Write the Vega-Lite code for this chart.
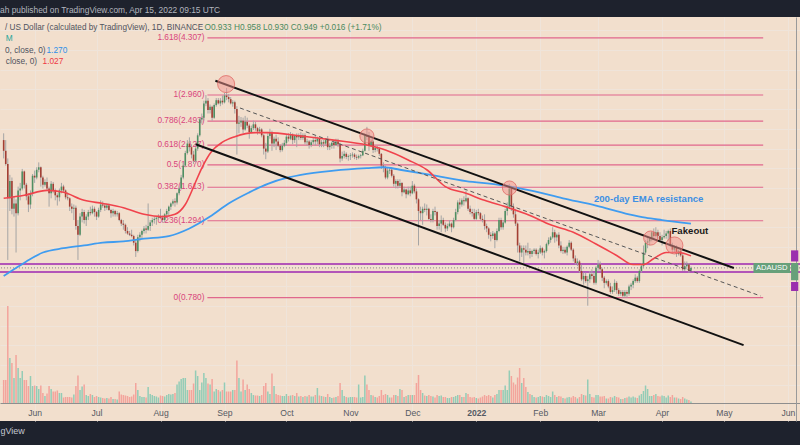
{
"$schema":"https://vega.github.io/schema/vega-lite/v6.json",
"width":800,"height":404,"autosize":"none",
"padding":{"left":0,"top":17,"right":0,"bottom":24},
"background":"#1e222d",
"config":{"view":{"fill":"#f2dfcd","stroke":null},"font":"Liberation Sans, Arial, sans-serif"},
"title":{"text":"ah published on TradingView.com, Apr 15, 2022 09:15 UTC","anchor":"start","frame":"group","orient":"top","offset":4,"dy":10,"color":"#b2b5be","fontSize":8.4,"fontWeight":"normal","baseline":"bottom"},
"datasets":{
"ohlc":[
{"d":"2021-05-17","o":2.20,"h":2.30,"l":1.95,"c":2.05,"v":230},
{"d":"2021-05-18","o":2.05,"h":2.20,"l":1.86,"c":1.88,"v":230},
{"d":"2021-05-19","o":1.88,"h":1.95,"l":1.00,"c":1.50,"v":970},
{"d":"2021-05-20","o":1.50,"h":1.75,"l":1.38,"c":1.68,"v":450},
{"d":"2021-05-21","o":1.68,"h":1.72,"l":1.35,"c":1.40,"v":400},
{"d":"2021-05-22","o":1.40,"h":1.52,"l":1.33,"c":1.45,"v":250},
{"d":"2021-05-23","o":1.45,"h":1.49,"l":1.05,"c":1.36,"v":480},
{"d":"2021-05-24","o":1.36,"h":1.62,"l":1.34,"c":1.58,"v":350},
{"d":"2021-05-25","o":1.58,"h":1.66,"l":1.48,"c":1.60,"v":250},
{"d":"2021-05-26","o":1.60,"h":1.82,"l":1.58,"c":1.79,"v":320},
{"d":"2021-05-27","o":1.79,"h":1.80,"l":1.60,"c":1.64,"v":230},
{"d":"2021-05-28","o":1.64,"h":1.66,"l":1.48,"c":1.52,"v":230},
{"d":"2021-05-29","o":1.52,"h":1.55,"l":1.37,"c":1.44,"v":170},
{"d":"2021-05-30","o":1.44,"h":1.58,"l":1.40,"c":1.55,"v":270},
{"d":"2021-05-31","o":1.55,"h":1.76,"l":1.52,"c":1.74,"v":170},
{"d":"2021-06-01","o":1.74,"h":1.80,"l":1.66,"c":1.72,"v":175},
{"d":"2021-06-02","o":1.72,"h":1.84,"l":1.70,"c":1.81,"v":170},
{"d":"2021-06-03","o":1.81,"h":1.90,"l":1.78,"c":1.84,"v":140},
{"d":"2021-06-04","o":1.84,"h":1.85,"l":1.62,"c":1.72,"v":175},
{"d":"2021-06-05","o":1.72,"h":1.74,"l":1.60,"c":1.64,"v":100},
{"d":"2021-06-06","o":1.64,"h":1.70,"l":1.62,"c":1.67,"v":70},
{"d":"2021-06-07","o":1.67,"h":1.72,"l":1.58,"c":1.60,"v":95},
{"d":"2021-06-08","o":1.60,"h":1.62,"l":1.42,"c":1.55,"v":170},
{"d":"2021-06-09","o":1.55,"h":1.68,"l":1.50,"c":1.65,"v":140},
{"d":"2021-06-10","o":1.65,"h":1.67,"l":1.55,"c":1.58,"v":115},
{"d":"2021-06-11","o":1.58,"h":1.60,"l":1.48,"c":1.53,"v":115},
{"d":"2021-06-12","o":1.53,"h":1.55,"l":1.43,"c":1.51,"v":125},
{"d":"2021-06-13","o":1.51,"h":1.60,"l":1.47,"c":1.58,"v":100},
{"d":"2021-06-14","o":1.58,"h":1.66,"l":1.55,"c":1.62,"v":100},
{"d":"2021-06-15","o":1.62,"h":1.64,"l":1.56,"c":1.58,"v":55},
{"d":"2021-06-16","o":1.58,"h":1.59,"l":1.49,"c":1.51,"v":60},
{"d":"2021-06-17","o":1.51,"h":1.56,"l":1.48,"c":1.50,"v":60},
{"d":"2021-06-18","o":1.50,"h":1.51,"l":1.38,"c":1.42,"v":60},
{"d":"2021-06-19","o":1.42,"h":1.45,"l":1.36,"c":1.40,"v":55},
{"d":"2021-06-20","o":1.40,"h":1.44,"l":1.30,"c":1.41,"v":85},
{"d":"2021-06-21","o":1.41,"h":1.43,"l":1.22,"c":1.25,"v":170},
{"d":"2021-06-22","o":1.25,"h":1.30,"l":1.00,"c":1.18,"v":275},
{"d":"2021-06-23","o":1.18,"h":1.36,"l":1.17,"c":1.33,"v":130},
{"d":"2021-06-24","o":1.33,"h":1.40,"l":1.28,"c":1.37,"v":165},
{"d":"2021-06-25","o":1.37,"h":1.39,"l":1.27,"c":1.30,"v":185},
{"d":"2021-06-26","o":1.30,"h":1.35,"l":1.25,"c":1.33,"v":80},
{"d":"2021-06-27","o":1.33,"h":1.39,"l":1.30,"c":1.37,"v":70},
{"d":"2021-06-28","o":1.37,"h":1.42,"l":1.34,"c":1.36,"v":90},
{"d":"2021-06-29","o":1.36,"h":1.43,"l":1.35,"c":1.40,"v":80},
{"d":"2021-06-30","o":1.40,"h":1.42,"l":1.33,"c":1.37,"v":60},
{"d":"2021-07-01","o":1.37,"h":1.38,"l":1.30,"c":1.33,"v":70},
{"d":"2021-07-02","o":1.33,"h":1.41,"l":1.32,"c":1.39,"v":60},
{"d":"2021-07-03","o":1.39,"h":1.48,"l":1.37,"c":1.44,"v":55},
{"d":"2021-07-04","o":1.44,"h":1.47,"l":1.41,"c":1.43,"v":50},
{"d":"2021-07-05","o":1.43,"h":1.45,"l":1.38,"c":1.41,"v":45},
{"d":"2021-07-06","o":1.41,"h":1.45,"l":1.39,"c":1.43,"v":50},
{"d":"2021-07-07","o":1.43,"h":1.45,"l":1.38,"c":1.39,"v":45},
{"d":"2021-07-08","o":1.39,"h":1.40,"l":1.32,"c":1.36,"v":60},
{"d":"2021-07-09","o":1.36,"h":1.40,"l":1.33,"c":1.38,"v":40},
{"d":"2021-07-10","o":1.38,"h":1.39,"l":1.33,"c":1.35,"v":40},
{"d":"2021-07-11","o":1.35,"h":1.38,"l":1.33,"c":1.36,"v":35},
{"d":"2021-07-12","o":1.36,"h":1.37,"l":1.29,"c":1.30,"v":115},
{"d":"2021-07-13","o":1.30,"h":1.31,"l":1.25,"c":1.27,"v":85},
{"d":"2021-07-14","o":1.27,"h":1.30,"l":1.22,"c":1.26,"v":80},
{"d":"2021-07-15","o":1.26,"h":1.27,"l":1.19,"c":1.21,"v":75},
{"d":"2021-07-16","o":1.21,"h":1.24,"l":1.18,"c":1.19,"v":70},
{"d":"2021-07-17","o":1.19,"h":1.21,"l":1.17,"c":1.18,"v":60},
{"d":"2021-07-18","o":1.18,"h":1.22,"l":1.16,"c":1.17,"v":65},
{"d":"2021-07-19","o":1.17,"h":1.18,"l":1.10,"c":1.12,"v":85},
{"d":"2021-07-20","o":1.12,"h":1.14,"l":1.02,"c":1.06,"v":200},
{"d":"2021-07-21","o":1.06,"h":1.18,"l":1.05,"c":1.16,"v":130},
{"d":"2021-07-22","o":1.16,"h":1.20,"l":1.13,"c":1.18,"v":70},
{"d":"2021-07-23","o":1.18,"h":1.22,"l":1.15,"c":1.21,"v":60},
{"d":"2021-07-24","o":1.21,"h":1.25,"l":1.19,"c":1.23,"v":60},
{"d":"2021-07-25","o":1.23,"h":1.26,"l":1.19,"c":1.22,"v":55},
{"d":"2021-07-26","o":1.22,"h":1.45,"l":1.21,"c":1.25,"v":160},
{"d":"2021-07-27","o":1.25,"h":1.30,"l":1.21,"c":1.28,"v":90},
{"d":"2021-07-28","o":1.28,"h":1.32,"l":1.25,"c":1.30,"v":80},
{"d":"2021-07-29","o":1.30,"h":1.33,"l":1.27,"c":1.31,"v":70},
{"d":"2021-07-30","o":1.31,"h":1.33,"l":1.26,"c":1.32,"v":65},
{"d":"2021-07-31","o":1.32,"h":1.35,"l":1.30,"c":1.33,"v":55},
{"d":"2021-08-01","o":1.33,"h":1.40,"l":1.31,"c":1.32,"v":75},
{"d":"2021-08-02","o":1.32,"h":1.34,"l":1.28,"c":1.30,"v":70},
{"d":"2021-08-03","o":1.30,"h":1.36,"l":1.28,"c":1.35,"v":65},
{"d":"2021-08-04","o":1.35,"h":1.40,"l":1.33,"c":1.38,"v":80},
{"d":"2021-08-05","o":1.38,"h":1.43,"l":1.33,"c":1.42,"v":90},
{"d":"2021-08-06","o":1.42,"h":1.46,"l":1.39,"c":1.45,"v":85},
{"d":"2021-08-07","o":1.45,"h":1.49,"l":1.43,"c":1.47,"v":90},
{"d":"2021-08-08","o":1.47,"h":1.50,"l":1.42,"c":1.46,"v":100},
{"d":"2021-08-09","o":1.46,"h":1.56,"l":1.44,"c":1.55,"v":185},
{"d":"2021-08-10","o":1.55,"h":1.62,"l":1.53,"c":1.60,"v":215},
{"d":"2021-08-11","o":1.60,"h":1.75,"l":1.59,"c":1.72,"v":240},
{"d":"2021-08-12","o":1.72,"h":1.90,"l":1.70,"c":1.86,"v":250},
{"d":"2021-08-13","o":1.86,"h":2.05,"l":1.84,"c":2.02,"v":250},
{"d":"2021-08-14","o":2.02,"h":2.20,"l":2.00,"c":2.15,"v":130},
{"d":"2021-08-15","o":2.15,"h":2.24,"l":2.04,"c":2.10,"v":130},
{"d":"2021-08-16","o":2.10,"h":2.14,"l":1.95,"c":2.00,"v":130},
{"d":"2021-08-17","o":2.00,"h":2.05,"l":1.88,"c":1.92,"v":195},
{"d":"2021-08-18","o":1.92,"h":2.10,"l":1.90,"c":2.08,"v":325},
{"d":"2021-08-19","o":2.08,"h":2.30,"l":2.05,"c":2.27,"v":270},
{"d":"2021-08-20","o":2.27,"h":2.55,"l":2.25,"c":2.52,"v":130},
{"d":"2021-08-21","o":2.52,"h":2.62,"l":2.45,"c":2.55,"v":205},
{"d":"2021-08-22","o":2.55,"h":2.85,"l":2.50,"c":2.80,"v":300},
{"d":"2021-08-23","o":2.80,"h":2.96,"l":2.75,"c":2.85,"v":250},
{"d":"2021-08-24","o":2.85,"h":2.90,"l":2.62,"c":2.68,"v":195},
{"d":"2021-08-25","o":2.68,"h":2.78,"l":2.62,"c":2.74,"v":185},
{"d":"2021-08-26","o":2.74,"h":2.76,"l":2.50,"c":2.55,"v":240},
{"d":"2021-08-27","o":2.55,"h":2.80,"l":2.53,"c":2.77,"v":115},
{"d":"2021-08-28","o":2.77,"h":2.90,"l":2.74,"c":2.86,"v":140},
{"d":"2021-08-29","o":2.86,"h":2.90,"l":2.78,"c":2.80,"v":130},
{"d":"2021-08-30","o":2.80,"h":2.90,"l":2.75,"c":2.85,"v":115},
{"d":"2021-08-31","o":2.85,"h":2.95,"l":2.78,"c":2.82,"v":130},
{"d":"2021-09-01","o":2.82,"h":3.00,"l":2.80,"c":2.95,"v":205},
{"d":"2021-09-02","o":2.95,"h":3.10,"l":2.86,"c":2.92,"v":115},
{"d":"2021-09-03","o":2.92,"h":2.98,"l":2.82,"c":2.88,"v":115},
{"d":"2021-09-04","o":2.88,"h":2.92,"l":2.78,"c":2.80,"v":115},
{"d":"2021-09-05","o":2.80,"h":2.86,"l":2.74,"c":2.82,"v":130},
{"d":"2021-09-06","o":2.82,"h":2.85,"l":2.62,"c":2.70,"v":130},
{"d":"2021-09-07","o":2.70,"h":2.75,"l":2.00,"c":2.45,"v":425},
{"d":"2021-09-08","o":2.45,"h":2.58,"l":2.30,"c":2.47,"v":250},
{"d":"2021-09-09","o":2.47,"h":2.56,"l":2.40,"c":2.50,"v":115},
{"d":"2021-09-10","o":2.50,"h":2.55,"l":2.30,"c":2.36,"v":235},
{"d":"2021-09-11","o":2.36,"h":2.58,"l":2.34,"c":2.48,"v":130},
{"d":"2021-09-12","o":2.48,"h":2.55,"l":2.38,"c":2.42,"v":185},
{"d":"2021-09-13","o":2.42,"h":2.45,"l":2.22,"c":2.32,"v":140},
{"d":"2021-09-14","o":2.32,"h":2.42,"l":2.30,"c":2.38,"v":100},
{"d":"2021-09-15","o":2.38,"h":2.50,"l":2.35,"c":2.44,"v":80},
{"d":"2021-09-16","o":2.44,"h":2.48,"l":2.34,"c":2.38,"v":75},
{"d":"2021-09-17","o":2.38,"h":2.40,"l":2.28,"c":2.33,"v":75},
{"d":"2021-09-18","o":2.33,"h":2.40,"l":2.30,"c":2.36,"v":70},
{"d":"2021-09-19","o":2.36,"h":2.38,"l":2.24,"c":2.27,"v":80},
{"d":"2021-09-20","o":2.27,"h":2.29,"l":2.00,"c":2.08,"v":170},
{"d":"2021-09-21","o":2.08,"h":2.16,"l":1.94,"c":2.04,"v":200},
{"d":"2021-09-22","o":2.04,"h":2.30,"l":2.02,"c":2.26,"v":115},
{"d":"2021-09-23","o":2.26,"h":2.37,"l":2.22,"c":2.32,"v":90},
{"d":"2021-09-24","o":2.32,"h":2.34,"l":2.05,"c":2.15,"v":295},
{"d":"2021-09-25","o":2.15,"h":2.25,"l":2.10,"c":2.22,"v":170},
{"d":"2021-09-26","o":2.22,"h":2.28,"l":2.06,"c":2.18,"v":90},
{"d":"2021-09-27","o":2.18,"h":2.24,"l":2.10,"c":2.12,"v":80},
{"d":"2021-09-28","o":2.12,"h":2.14,"l":2.03,"c":2.06,"v":75},
{"d":"2021-09-29","o":2.06,"h":2.16,"l":2.04,"c":2.12,"v":70},
{"d":"2021-09-30","o":2.12,"h":2.20,"l":2.10,"c":2.16,"v":70},
{"d":"2021-10-01","o":2.16,"h":2.28,"l":2.12,"c":2.25,"v":90},
{"d":"2021-10-02","o":2.25,"h":2.30,"l":2.18,"c":2.22,"v":70},
{"d":"2021-10-03","o":2.22,"h":2.32,"l":2.20,"c":2.28,"v":75},
{"d":"2021-10-04","o":2.28,"h":2.30,"l":2.14,"c":2.20,"v":80},
{"d":"2021-10-05","o":2.20,"h":2.28,"l":2.16,"c":2.26,"v":70},
{"d":"2021-10-06","o":2.26,"h":2.30,"l":2.10,"c":2.24,"v":100},
{"d":"2021-10-07","o":2.24,"h":2.30,"l":2.20,"c":2.27,"v":65},
{"d":"2021-10-08","o":2.27,"h":2.32,"l":2.20,"c":2.23,"v":70},
{"d":"2021-10-09","o":2.23,"h":2.30,"l":2.20,"c":2.27,"v":60},
{"d":"2021-10-10","o":2.27,"h":2.30,"l":2.14,"c":2.17,"v":70},
{"d":"2021-10-11","o":2.17,"h":2.22,"l":2.12,"c":2.18,"v":65},
{"d":"2021-10-12","o":2.18,"h":2.20,"l":2.08,"c":2.13,"v":80},
{"d":"2021-10-13","o":2.13,"h":2.20,"l":2.10,"c":2.17,"v":65},
{"d":"2021-10-14","o":2.17,"h":2.24,"l":2.14,"c":2.20,"v":65},
{"d":"2021-10-15","o":2.20,"h":2.26,"l":2.12,"c":2.18,"v":80},
{"d":"2021-10-16","o":2.18,"h":2.25,"l":2.14,"c":2.22,"v":150},
{"d":"2021-10-17","o":2.22,"h":2.23,"l":2.10,"c":2.14,"v":75},
{"d":"2021-10-18","o":2.14,"h":2.20,"l":2.10,"c":2.17,"v":70},
{"d":"2021-10-19","o":2.17,"h":2.20,"l":2.10,"c":2.15,"v":65},
{"d":"2021-10-20","o":2.15,"h":2.22,"l":2.12,"c":2.20,"v":60},
{"d":"2021-10-21","o":2.20,"h":2.26,"l":2.06,"c":2.10,"v":90},
{"d":"2021-10-22","o":2.10,"h":2.16,"l":2.06,"c":2.12,"v":60},
{"d":"2021-10-23","o":2.12,"h":2.18,"l":2.08,"c":2.16,"v":50},
{"d":"2021-10-24","o":2.16,"h":2.18,"l":2.08,"c":2.13,"v":55},
{"d":"2021-10-25","o":2.13,"h":2.22,"l":2.12,"c":2.18,"v":60},
{"d":"2021-10-26","o":2.18,"h":2.22,"l":2.10,"c":2.14,"v":70},
{"d":"2021-10-27","o":2.14,"h":2.16,"l":1.90,"c":1.95,"v":200},
{"d":"2021-10-28","o":1.95,"h":2.04,"l":1.92,"c":1.98,"v":130},
{"d":"2021-10-29","o":1.98,"h":2.05,"l":1.95,"c":2.01,"v":70},
{"d":"2021-10-30","o":2.01,"h":2.03,"l":1.94,"c":1.97,"v":60},
{"d":"2021-10-31","o":1.97,"h":2.00,"l":1.92,"c":1.98,"v":55},
{"d":"2021-11-01","o":1.98,"h":2.02,"l":1.93,"c":1.99,"v":60},
{"d":"2021-11-02","o":1.99,"h":2.03,"l":1.96,"c":2.00,"v":60},
{"d":"2021-11-03","o":2.00,"h":2.02,"l":1.94,"c":1.97,"v":60},
{"d":"2021-11-04","o":1.97,"h":2.00,"l":1.93,"c":1.96,"v":55},
{"d":"2021-11-05","o":1.96,"h":2.00,"l":1.94,"c":1.98,"v":185},
{"d":"2021-11-06","o":1.98,"h":2.01,"l":1.95,"c":1.99,"v":55},
{"d":"2021-11-07","o":1.99,"h":2.08,"l":1.98,"c":2.05,"v":60},
{"d":"2021-11-08","o":2.05,"h":2.30,"l":2.04,"c":2.27,"v":275},
{"d":"2021-11-09","o":2.27,"h":2.40,"l":2.20,"c":2.25,"v":185},
{"d":"2021-11-10","o":2.25,"h":2.32,"l":2.05,"c":2.12,"v":130},
{"d":"2021-11-11","o":2.12,"h":2.22,"l":2.10,"c":2.18,"v":80},
{"d":"2021-11-12","o":2.18,"h":2.20,"l":2.02,"c":2.06,"v":75},
{"d":"2021-11-13","o":2.06,"h":2.12,"l":2.03,"c":2.09,"v":60},
{"d":"2021-11-14","o":2.09,"h":2.12,"l":2.04,"c":2.08,"v":55},
{"d":"2021-11-15","o":2.08,"h":2.10,"l":1.98,"c":2.01,"v":70},
{"d":"2021-11-16","o":2.01,"h":2.02,"l":1.82,"c":1.86,"v":130},
{"d":"2021-11-17","o":1.86,"h":1.90,"l":1.78,"c":1.84,"v":80},
{"d":"2021-11-18","o":1.84,"h":1.86,"l":1.70,"c":1.72,"v":90},
{"d":"2021-11-19","o":1.72,"h":1.84,"l":1.70,"c":1.80,"v":80},
{"d":"2021-11-20","o":1.80,"h":1.84,"l":1.76,"c":1.81,"v":55},
{"d":"2021-11-21","o":1.81,"h":1.82,"l":1.72,"c":1.74,"v":55},
{"d":"2021-11-22","o":1.74,"h":1.76,"l":1.62,"c":1.65,"v":80},
{"d":"2021-11-23","o":1.65,"h":1.70,"l":1.60,"c":1.68,"v":80},
{"d":"2021-11-24","o":1.68,"h":1.70,"l":1.60,"c":1.63,"v":70},
{"d":"2021-11-25","o":1.63,"h":1.70,"l":1.61,"c":1.66,"v":140},
{"d":"2021-11-26","o":1.66,"h":1.67,"l":1.52,"c":1.56,"v":130},
{"d":"2021-11-27","o":1.56,"h":1.62,"l":1.55,"c":1.59,"v":60},
{"d":"2021-11-28","o":1.59,"h":1.60,"l":1.50,"c":1.54,"v":70},
{"d":"2021-11-29","o":1.54,"h":1.62,"l":1.53,"c":1.58,"v":80},
{"d":"2021-11-30","o":1.58,"h":1.62,"l":1.52,"c":1.55,"v":80},
{"d":"2021-12-01","o":1.55,"h":1.68,"l":1.54,"c":1.63,"v":80},
{"d":"2021-12-02","o":1.63,"h":1.65,"l":1.55,"c":1.57,"v":80},
{"d":"2021-12-03","o":1.57,"h":1.60,"l":1.45,"c":1.49,"v":200},
{"d":"2021-12-04","o":1.49,"h":1.50,"l":1.10,"c":1.38,"v":280},
{"d":"2021-12-05","o":1.38,"h":1.42,"l":1.30,"c":1.36,"v":130},
{"d":"2021-12-06","o":1.36,"h":1.42,"l":1.26,"c":1.40,"v":100},
{"d":"2021-12-07","o":1.40,"h":1.45,"l":1.37,"c":1.39,"v":75},
{"d":"2021-12-08","o":1.39,"h":1.44,"l":1.34,"c":1.40,"v":70},
{"d":"2021-12-09","o":1.40,"h":1.41,"l":1.30,"c":1.31,"v":80},
{"d":"2021-12-10","o":1.31,"h":1.35,"l":1.28,"c":1.30,"v":70},
{"d":"2021-12-11","o":1.30,"h":1.40,"l":1.28,"c":1.38,"v":65},
{"d":"2021-12-12","o":1.38,"h":1.42,"l":1.34,"c":1.37,"v":55},
{"d":"2021-12-13","o":1.37,"h":1.38,"l":1.22,"c":1.25,"v":80},
{"d":"2021-12-14","o":1.25,"h":1.30,"l":1.22,"c":1.27,"v":70},
{"d":"2021-12-15","o":1.27,"h":1.34,"l":1.20,"c":1.30,"v":75},
{"d":"2021-12-16","o":1.30,"h":1.32,"l":1.25,"c":1.26,"v":60},
{"d":"2021-12-17","o":1.26,"h":1.28,"l":1.20,"c":1.23,"v":60},
{"d":"2021-12-18","o":1.23,"h":1.27,"l":1.21,"c":1.25,"v":50},
{"d":"2021-12-19","o":1.25,"h":1.30,"l":1.24,"c":1.27,"v":50},
{"d":"2021-12-20","o":1.27,"h":1.28,"l":1.20,"c":1.24,"v":60},
{"d":"2021-12-21","o":1.24,"h":1.32,"l":1.23,"c":1.30,"v":60},
{"d":"2021-12-22","o":1.30,"h":1.40,"l":1.29,"c":1.37,"v":70},
{"d":"2021-12-23","o":1.37,"h":1.48,"l":1.35,"c":1.46,"v":80},
{"d":"2021-12-24","o":1.46,"h":1.50,"l":1.40,"c":1.44,"v":80},
{"d":"2021-12-25","o":1.44,"h":1.50,"l":1.42,"c":1.48,"v":60},
{"d":"2021-12-26","o":1.48,"h":1.52,"l":1.43,"c":1.47,"v":60},
{"d":"2021-12-27","o":1.47,"h":1.58,"l":1.46,"c":1.50,"v":100},
{"d":"2021-12-28","o":1.50,"h":1.51,"l":1.38,"c":1.40,"v":90},
{"d":"2021-12-29","o":1.40,"h":1.43,"l":1.35,"c":1.37,"v":60},
{"d":"2021-12-30","o":1.37,"h":1.40,"l":1.33,"c":1.36,"v":55},
{"d":"2021-12-31","o":1.36,"h":1.40,"l":1.30,"c":1.31,"v":60},
{"d":"2022-01-01","o":1.31,"h":1.39,"l":1.30,"c":1.37,"v":50},
{"d":"2022-01-02","o":1.37,"h":1.40,"l":1.34,"c":1.36,"v":45},
{"d":"2022-01-03","o":1.36,"h":1.37,"l":1.30,"c":1.31,"v":55},
{"d":"2022-01-04","o":1.31,"h":1.34,"l":1.28,"c":1.30,"v":65},
{"d":"2022-01-05","o":1.30,"h":1.35,"l":1.22,"c":1.25,"v":80},
{"d":"2022-01-06","o":1.25,"h":1.27,"l":1.20,"c":1.23,"v":70},
{"d":"2022-01-07","o":1.23,"h":1.24,"l":1.15,"c":1.18,"v":80},
{"d":"2022-01-08","o":1.18,"h":1.20,"l":1.13,"c":1.17,"v":70},
{"d":"2022-01-09","o":1.17,"h":1.21,"l":1.15,"c":1.19,"v":55},
{"d":"2022-01-10","o":1.19,"h":1.20,"l":1.08,"c":1.14,"v":80},
{"d":"2022-01-11","o":1.14,"h":1.23,"l":1.13,"c":1.21,"v":90},
{"d":"2022-01-12","o":1.21,"h":1.32,"l":1.20,"c":1.30,"v":130},
{"d":"2022-01-13","o":1.30,"h":1.32,"l":1.22,"c":1.24,"v":130},
{"d":"2022-01-14","o":1.24,"h":1.30,"l":1.22,"c":1.28,"v":130},
{"d":"2022-01-15","o":1.28,"h":1.40,"l":1.27,"c":1.38,"v":175},
{"d":"2022-01-16","o":1.38,"h":1.46,"l":1.34,"c":1.42,"v":130},
{"d":"2022-01-17","o":1.42,"h":1.65,"l":1.40,"c":1.60,"v":325},
{"d":"2022-01-18","o":1.60,"h":1.62,"l":1.38,"c":1.42,"v":270},
{"d":"2022-01-19","o":1.42,"h":1.45,"l":1.32,"c":1.35,"v":205},
{"d":"2022-01-20","o":1.35,"h":1.40,"l":1.25,"c":1.27,"v":185},
{"d":"2022-01-21","o":1.27,"h":1.28,"l":1.05,"c":1.10,"v":255},
{"d":"2022-01-22","o":1.10,"h":1.12,"l":0.99,"c":1.05,"v":350},
{"d":"2022-01-23","o":1.05,"h":1.10,"l":1.02,"c":1.08,"v":200},
{"d":"2022-01-24","o":1.08,"h":1.10,"l":0.98,"c":1.07,"v":250},
{"d":"2022-01-25","o":1.07,"h":1.10,"l":1.03,"c":1.05,"v":160},
{"d":"2022-01-26","o":1.05,"h":1.12,"l":1.03,"c":1.06,"v":110},
{"d":"2022-01-27","o":1.06,"h":1.08,"l":1.01,"c":1.04,"v":90},
{"d":"2022-01-28","o":1.04,"h":1.07,"l":1.02,"c":1.06,"v":80},
{"d":"2022-01-29","o":1.06,"h":1.08,"l":1.04,"c":1.07,"v":60},
{"d":"2022-01-30","o":1.07,"h":1.08,"l":1.03,"c":1.04,"v":55},
{"d":"2022-01-31","o":1.04,"h":1.07,"l":1.01,"c":1.05,"v":60},
{"d":"2022-02-01","o":1.05,"h":1.10,"l":1.04,"c":1.08,"v":70},
{"d":"2022-02-02","o":1.08,"h":1.09,"l":1.03,"c":1.05,"v":65},
{"d":"2022-02-03","o":1.05,"h":1.07,"l":1.01,"c":1.06,"v":60},
{"d":"2022-02-04","o":1.06,"h":1.12,"l":1.05,"c":1.11,"v":80},
{"d":"2022-02-05","o":1.11,"h":1.16,"l":1.10,"c":1.14,"v":70},
{"d":"2022-02-06","o":1.14,"h":1.17,"l":1.12,"c":1.16,"v":60},
{"d":"2022-02-07","o":1.16,"h":1.24,"l":1.15,"c":1.20,"v":115},
{"d":"2022-02-08","o":1.20,"h":1.22,"l":1.12,"c":1.16,"v":80},
{"d":"2022-02-09","o":1.16,"h":1.19,"l":1.13,"c":1.18,"v":60},
{"d":"2022-02-10","o":1.18,"h":1.20,"l":1.08,"c":1.10,"v":70},
{"d":"2022-02-11","o":1.10,"h":1.13,"l":1.05,"c":1.06,"v":65},
{"d":"2022-02-12","o":1.06,"h":1.09,"l":1.04,"c":1.07,"v":50},
{"d":"2022-02-13","o":1.07,"h":1.09,"l":1.04,"c":1.05,"v":45},
{"d":"2022-02-14","o":1.05,"h":1.10,"l":1.03,"c":1.09,"v":55},
{"d":"2022-02-15","o":1.09,"h":1.14,"l":1.08,"c":1.12,"v":60},
{"d":"2022-02-16","o":1.12,"h":1.13,"l":1.06,"c":1.07,"v":55},
{"d":"2022-02-17","o":1.07,"h":1.08,"l":0.99,"c":1.01,"v":70},
{"d":"2022-02-18","o":1.01,"h":1.03,"l":0.97,"c":0.98,"v":60},
{"d":"2022-02-19","o":0.98,"h":1.01,"l":0.96,"c":0.99,"v":45},
{"d":"2022-02-20","o":0.99,"h":1.00,"l":0.92,"c":0.93,"v":60},
{"d":"2022-02-21","o":0.93,"h":0.97,"l":0.87,"c":0.88,"v":90},
{"d":"2022-02-22","o":0.88,"h":0.92,"l":0.85,"c":0.90,"v":80},
{"d":"2022-02-23","o":0.90,"h":0.92,"l":0.86,"c":0.87,"v":75},
{"d":"2022-02-24","o":0.87,"h":0.90,"l":0.74,"c":0.88,"v":235},
{"d":"2022-02-25","o":0.88,"h":0.93,"l":0.86,"c":0.91,"v":90},
{"d":"2022-02-26","o":0.91,"h":0.94,"l":0.88,"c":0.90,"v":60},
{"d":"2022-02-27","o":0.90,"h":0.92,"l":0.85,"c":0.86,"v":55},
{"d":"2022-02-28","o":0.86,"h":0.96,"l":0.85,"c":0.95,"v":80},
{"d":"2022-03-01","o":0.95,"h":1.00,"l":0.93,"c":0.97,"v":80},
{"d":"2022-03-02","o":0.97,"h":0.99,"l":0.93,"c":0.94,"v":65},
{"d":"2022-03-03","o":0.94,"h":0.95,"l":0.87,"c":0.89,"v":65},
{"d":"2022-03-04","o":0.89,"h":0.90,"l":0.83,"c":0.86,"v":70},
{"d":"2022-03-05","o":0.86,"h":0.88,"l":0.85,"c":0.87,"v":45},
{"d":"2022-03-06","o":0.87,"h":0.88,"l":0.83,"c":0.84,"v":45},
{"d":"2022-03-07","o":0.84,"h":0.86,"l":0.80,"c":0.81,"v":60},
{"d":"2022-03-08","o":0.81,"h":0.84,"l":0.80,"c":0.82,"v":55},
{"d":"2022-03-09","o":0.82,"h":0.88,"l":0.81,"c":0.86,"v":70},
{"d":"2022-03-10","o":0.86,"h":0.87,"l":0.80,"c":0.82,"v":60},
{"d":"2022-03-11","o":0.82,"h":0.83,"l":0.79,"c":0.80,"v":55},
{"d":"2022-03-12","o":0.80,"h":0.82,"l":0.79,"c":0.81,"v":40},
{"d":"2022-03-13","o":0.81,"h":0.82,"l":0.78,"c":0.79,"v":40},
{"d":"2022-03-14","o":0.79,"h":0.82,"l":0.78,"c":0.81,"v":50},
{"d":"2022-03-15","o":0.81,"h":0.82,"l":0.78,"c":0.80,"v":55},
{"d":"2022-03-16","o":0.80,"h":0.85,"l":0.79,"c":0.84,"v":65},
{"d":"2022-03-17","o":0.84,"h":0.86,"l":0.82,"c":0.85,"v":55},
{"d":"2022-03-18","o":0.85,"h":0.88,"l":0.83,"c":0.87,"v":65},
{"d":"2022-03-19","o":0.87,"h":0.91,"l":0.86,"c":0.89,"v":55},
{"d":"2022-03-20","o":0.89,"h":0.90,"l":0.86,"c":0.87,"v":50},
{"d":"2022-03-21","o":0.87,"h":0.94,"l":0.86,"c":0.93,"v":75},
{"d":"2022-03-22","o":0.93,"h":0.98,"l":0.92,"c":0.96,"v":90},
{"d":"2022-03-23","o":0.96,"h":1.10,"l":0.95,"c":1.05,"v":120},
{"d":"2022-03-24","o":1.05,"h":1.14,"l":1.04,"c":1.12,"v":175},
{"d":"2022-03-25","o":1.12,"h":1.16,"l":1.08,"c":1.13,"v":140},
{"d":"2022-03-26","o":1.13,"h":1.16,"l":1.10,"c":1.15,"v":70},
{"d":"2022-03-27","o":1.15,"h":1.21,"l":1.13,"c":1.20,"v":70},
{"d":"2022-03-28","o":1.20,"h":1.23,"l":1.14,"c":1.17,"v":80},
{"d":"2022-03-29","o":1.17,"h":1.24,"l":1.16,"c":1.20,"v":90},
{"d":"2022-03-30","o":1.20,"h":1.22,"l":1.15,"c":1.17,"v":70},
{"d":"2022-03-31","o":1.17,"h":1.20,"l":1.13,"c":1.14,"v":65},
{"d":"2022-04-01","o":1.14,"h":1.18,"l":1.10,"c":1.16,"v":75},
{"d":"2022-04-02","o":1.16,"h":1.22,"l":1.15,"c":1.17,"v":70},
{"d":"2022-04-03","o":1.17,"h":1.21,"l":1.15,"c":1.19,"v":55},
{"d":"2022-04-04","o":1.19,"h":1.22,"l":1.13,"c":1.21,"v":75},
{"d":"2022-04-05","o":1.21,"h":1.23,"l":1.09,"c":1.10,"v":60},
{"d":"2022-04-06","o":1.10,"h":1.12,"l":1.04,"c":1.07,"v":80},
{"d":"2022-04-07","o":1.07,"h":1.10,"l":1.05,"c":1.09,"v":55},
{"d":"2022-04-08","o":1.09,"h":1.10,"l":1.02,"c":1.04,"v":55},
{"d":"2022-04-09","o":1.04,"h":1.07,"l":1.03,"c":1.06,"v":45},
{"d":"2022-04-10","o":1.06,"h":1.08,"l":1.02,"c":1.03,"v":40},
{"d":"2022-04-11","o":1.03,"h":1.04,"l":0.93,"c":0.94,"v":60},
{"d":"2022-04-12","o":0.94,"h":0.99,"l":0.93,"c":0.96,"v":45},
{"d":"2022-04-13","o":0.96,"h":0.99,"l":0.94,"c":0.97,"v":35},
{"d":"2022-04-14","o":0.97,"h":0.98,"l":0.92,"c":0.93,"v":30},
{"d":"2022-04-15","o":0.933,"h":0.958,"l":0.930,"c":0.949,"v":15}
],
"ema50":[
{"d":"2021-05-17","v":1.50},{"d":"2021-05-27","v":1.53},{"d":"2021-06-07","v":1.58},{"d":"2021-06-15","v":1.56},{"d":"2021-06-25","v":1.48},{"d":"2021-07-04","v":1.45},{"d":"2021-07-14","v":1.41},{"d":"2021-07-24","v":1.35},{"d":"2021-08-02","v":1.33},{"d":"2021-08-08","v":1.35},{"d":"2021-08-13","v":1.44},{"d":"2021-08-18","v":1.67},{"d":"2021-08-21","v":1.83},{"d":"2021-08-26","v":2.05},{"d":"2021-08-31","v":2.17},{"d":"2021-09-06","v":2.25},{"d":"2021-09-16","v":2.31},{"d":"2021-09-22","v":2.31},{"d":"2021-10-08","v":2.26},{"d":"2021-10-24","v":2.20},{"d":"2021-11-09","v":2.13},{"d":"2021-11-18","v":2.06},{"d":"2021-11-29","v":1.93},{"d":"2021-12-08","v":1.81},{"d":"2021-12-17","v":1.62},{"d":"2021-12-27","v":1.55},{"d":"2022-01-05","v":1.48},{"d":"2022-01-15","v":1.42},{"d":"2022-01-27","v":1.34},{"d":"2022-02-06","v":1.26},{"d":"2022-02-17","v":1.20},{"d":"2022-02-28","v":1.11},{"d":"2022-03-10","v":1.03},{"d":"2022-03-18","v":0.97},{"d":"2022-03-23","v":0.97},{"d":"2022-03-28","v":1.01},{"d":"2022-04-03","v":1.05},{"d":"2022-04-09","v":1.05},{"d":"2022-04-15","v":1.027}
],
"ema200":[
{"d":"2021-05-17","v":0.90},{"d":"2021-05-22","v":0.94},{"d":"2021-05-28","v":0.99},{"d":"2021-06-05","v":1.05},{"d":"2021-06-15","v":1.08},{"d":"2021-06-25","v":1.10},{"d":"2021-07-04","v":1.12},{"d":"2021-07-14","v":1.13},{"d":"2021-07-24","v":1.15},{"d":"2021-08-05","v":1.17},{"d":"2021-08-15","v":1.23},{"d":"2021-08-25","v":1.33},{"d":"2021-09-03","v":1.45},{"d":"2021-09-13","v":1.56},{"d":"2021-09-22","v":1.65},{"d":"2021-10-02","v":1.72},{"d":"2021-10-08","v":1.75},{"d":"2021-10-24","v":1.80},{"d":"2021-11-09","v":1.83},{"d":"2021-11-17","v":1.84},{"d":"2021-11-25","v":1.81},{"d":"2021-12-10","v":1.75},{"d":"2021-12-27","v":1.68},{"d":"2022-01-12","v":1.64},{"d":"2022-01-27","v":1.58},{"d":"2022-02-12","v":1.50},{"d":"2022-02-28","v":1.43},{"d":"2022-03-16","v":1.35},{"d":"2022-03-24","v":1.32},{"d":"2022-04-01","v":1.30},{"d":"2022-04-15","v":1.27}
],
"fib":[
{"lvl":"1.618(4.307)","p":4.307},{"lvl":"1(2.960)","p":2.96},{"lvl":"0.786(2.493)","p":2.493},{"lvl":"0.618(2.127)","p":2.127},{"lvl":"0.5(1.870)","p":1.87},{"lvl":"0.382(1.613)","p":1.613},{"lvl":"0.236(1.294)","p":1.294},{"lvl":"0(0.780)","p":0.78}
],
"channel":[
{"line":"upper","d":"2021-08-27T14:00:00Z","p":3.25},{"line":"upper","d":"2022-05-05T19:00:00Z","p":0.948},
{"line":"lower","d":"2021-08-18T00:00:00Z","p":2.14},{"line":"lower","d":"2022-05-10T12:00:00Z","p":0.571},
{"line":"mid","d":"2021-09-08T12:00:00Z","p":2.717},{"line":"mid","d":"2022-05-18T17:00:00Z","p":0.789}
],
"levels":[{"p":0.973},{"p":0.924}]
},
"layer":[
{"data":{"name":"ohlc"},"mark":{"type":"bar","size":1.5},
 "encoding":{
  "x":{"field":"d","type":"temporal","scale":{"type":"utc","domain":[1621265400000,1654336800000]},
   "axis":{"orient":"bottom","offset":-18,"values":[
    {"year":2021,"month":6,"date":1,"utc":true},{"year":2021,"month":7,"date":1,"utc":true},{"year":2021,"month":8,"date":1,"utc":true},{"year":2021,"month":9,"date":1,"utc":true},{"year":2021,"month":10,"date":1,"utc":true},{"year":2021,"month":11,"date":1,"utc":true},{"year":2021,"month":12,"date":1,"utc":true},{"year":2022,"month":1,"date":1,"utc":true},{"year":2022,"month":2,"date":1,"utc":true},{"year":2022,"month":3,"date":1,"utc":true},{"year":2022,"month":4,"date":1,"utc":true},{"year":2022,"month":5,"date":1,"utc":true},{"year":2022,"month":6,"date":1,"utc":true}],
    "labelExpr":"utcFormat(datum.value, '%m') === '01' ? utcFormat(datum.value, '%Y') : utcFormat(datum.value, '%b')",
    "labelFontWeight":{"condition":{"test":"utcFormat(datum.value, '%m') === '01'","value":"bold"},"value":"normal"},
    "grid":true,"gridColor":"#efe4da","gridWidth":1,"ticks":false,"domainColor":"#8e8e8e","labelColor":"#555a63","labelFontSize":8.6,"labelPadding":5,"labelFlush":false,"labelOverlap":false,
    "title":"gView","titleAnchor":"start","titleAlign":"left","titleColor":"#c3c6cf","titleFontSize":9,"titleFontWeight":"normal","titlePadding":10}},
  "y":{"field":"v","type":"quantitative","scale":{"domain":[-180,3860],"nice":false,"zero":false},
   "axis":{"orient":"right","offset":-4,"labels":false,"ticks":false,"grid":false,"title":null,"domainColor":"#9a9a9a"}},
  "color":{"condition":{"test":"datum.c >= datum.o","value":"#93ccb6"},"value":"#f3a49c"}
 }},
{"layer":[
 {"data":{"name":"fib"},"mark":{"type":"rule","color":"#e0678d","strokeWidth":1.2},
  "encoding":{
   "x":{"datum":{"year":2021,"month":8,"date":23,"hours":17,"utc":true},"type":"temporal"},
   "x2":{"datum":{"year":2022,"month":5,"date":20,"utc":true}},
   "y":{"field":"p","type":"quantitative","scale":{"type":"log","domain":[0.3466,4.944],"nice":false,"zero":false},
    "axis":{"values":[0.44,0.50,0.57,0.649,0.739,0.841,0.958,1.09,1.24,1.41,1.61,1.83,2.08,2.37,2.70,3.07,3.50,3.98,4.54],"grid":true,"gridColor":"#efe4da","labels":false,"ticks":false,"domain":false,"title":null}}}},
 {"data":{"name":"fib"},"mark":{"type":"text","align":"right","baseline":"middle","color":"#d9457c","fontSize":8.3},
  "encoding":{
   "x":{"datum":{"year":2021,"month":8,"date":22,"hours":7,"utc":true},"type":"temporal"},
   "y":{"field":"p","type":"quantitative"},
   "text":{"field":"lvl"}}},
 {"data":{"name":"levels"},"mark":{"type":"rule","color":"#9c27b0","strokeWidth":1.5},
  "encoding":{"y":{"field":"p","type":"quantitative"}}},
 {"data":{"values":[{"p":0.949}]},"mark":{"type":"rule","color":"#8a8a8a","strokeWidth":1,"strokeDash":[1,2]},
  "encoding":{"y":{"field":"p","type":"quantitative"}}},
 {"data":{"name":"ohlc"},"mark":{"type":"rule","color":"#a5a5a5","strokeWidth":1},
  "encoding":{"x":{"field":"d","type":"temporal"},"y":{"field":"l","type":"quantitative"},"y2":{"field":"h"}}},
 {"data":{"name":"ohlc"},"mark":{"type":"bar","size":1.6},
  "encoding":{"x":{"field":"d","type":"temporal"},"y":{"field":"o","type":"quantitative"},"y2":{"field":"c"},
   "color":{"condition":{"test":"datum.c >= datum.o","value":"#4f8f62"},"value":"#a33e33"}}},
 {"data":{"name":"ema200"},"mark":{"type":"line","color":"#3f9cf0","strokeWidth":1.8,"interpolate":"monotone"},
  "encoding":{"x":{"field":"d","type":"temporal"},"y":{"field":"v","type":"quantitative"}}},
 {"data":{"name":"ema50"},"mark":{"type":"line","color":"#f0434c","strokeWidth":1.6,"interpolate":"monotone"},
  "encoding":{"x":{"field":"d","type":"temporal"},"y":{"field":"v","type":"quantitative"}}},
 {"data":{"name":"channel"},"transform":[{"filter":"datum.line !== 'mid'"}],"mark":{"type":"line","color":"#111111","strokeWidth":2},
  "encoding":{"x":{"field":"d","type":"temporal"},"y":{"field":"p","type":"quantitative"},"detail":{"field":"line"}}},
 {"data":{"name":"channel"},"transform":[{"filter":"datum.line === 'mid'"}],"mark":{"type":"line","color":"#555555","strokeWidth":1,"strokeDash":[4,3]},
  "encoding":{"x":{"field":"d","type":"temporal"},"y":{"field":"p","type":"quantitative"}}},
 {"data":{"values":[{"d":"2021-09-01T19:00:00Z","p":3.18},{"d":"2022-04-07T00:00:00Z","p":1.10}]},
  "mark":{"type":"point","shape":"circle","filled":true,"fill":"#f2928d","fillOpacity":0.5,"stroke":"#e06a66","strokeWidth":1,"strokeOpacity":0.8,"size":290},
  "encoding":{"x":{"field":"d","type":"temporal"},"y":{"field":"p","type":"quantitative"}}},
 {"data":{"values":[{"d":"2021-11-09T00:00:00Z","p":2.26},{"d":"2022-01-17T02:00:00Z","p":1.605},{"d":"2022-03-26T12:00:00Z","p":1.155}]},
  "mark":{"type":"point","shape":"circle","filled":true,"fill":"#f2928d","fillOpacity":0.5,"stroke":"#e06a66","strokeWidth":1,"strokeOpacity":0.8,"size":200},
  "encoding":{"x":{"field":"d","type":"temporal"},"y":{"field":"p","type":"quantitative"}}},
 {"data":{"values":[{"t":"200-day EMA resistance"}]},"mark":{"type":"text","align":"left","baseline":"middle","color":"#3d8fe3","fontSize":9.6,"fontWeight":"bold"},
  "encoding":{"x":{"datum":{"year":2022,"month":2,"date":27,"utc":true},"type":"temporal"},"y":{"datum":1.49},"text":{"field":"t"}}},
 {"data":{"values":[{"t":"Fakeout"}]},"mark":{"type":"text","align":"left","baseline":"middle","color":"#1b1b1b","fontSize":9.6,"fontWeight":"bold"},
  "encoding":{"x":{"datum":{"year":2022,"month":4,"date":5,"hours":14,"utc":true},"type":"temporal"},"y":{"datum":1.209},"text":{"field":"t"}}},
 {"data":{"values":[{"t":"ADAUSD"}]},"mark":{"type":"rect","color":"#67a07a"},
  "encoding":{"x":{"datum":{"year":2022,"month":5,"date":15,"hours":7,"utc":true},"type":"temporal"},"x2":{"datum":{"year":2022,"month":6,"date":2,"utc":true}},"y":{"datum":0.98},"y2":{"datum":0.9175}}},
 {"data":{"values":[{"t":"ADAUSD"}]},"mark":{"type":"text","align":"center","baseline":"middle","color":"#ffffff","fontSize":7.6},
  "encoding":{"x":{"datum":{"year":2022,"month":5,"date":24,"hours":4,"utc":true},"type":"temporal"},"y":{"datum":0.949},"text":{"field":"t"}}},
 {"data":{"values":[{"k":"a","p1":1.065,"p2":0.99},{"k":"b","p1":0.865,"p2":0.815}]},"mark":{"type":"rect","color":"#9b2fae"},
  "encoding":{"x":{"datum":{"year":2022,"month":6,"date":2,"hours":12,"utc":true},"type":"temporal"},"x2":{"datum":{"year":2022,"month":6,"date":6,"utc":true}},"y":{"field":"p1","type":"quantitative"},"y2":{"field":"p2"}}},
 {"data":{"values":[{"p1":0.98,"p2":0.875}]},"mark":{"type":"rect","color":"#67a07a"},
  "encoding":{"x":{"datum":{"year":2022,"month":6,"date":2,"hours":12,"utc":true},"type":"temporal"},"x2":{"datum":{"year":2022,"month":6,"date":6,"utc":true}},"y":{"field":"p1","type":"quantitative"},"y2":{"field":"p2"}}},
 {"data":{"values":[{"t":"/ US Dollar (calculated by TradingView), 1D, BINANCE"}]},"mark":{"type":"text","align":"left","baseline":"middle","color":"#50535e","fontSize":8.2},
  "encoding":{"x":{"datum":{"year":2021,"month":5,"date":17,"hours":15,"minutes":30,"utc":true},"type":"temporal"},"y":{"datum":4.60},"text":{"field":"t"}}},
 {"data":{"values":[{"t":"O0.933  H0.958  L0.930  C0.949  +0.016 (+1.71%)"}]},"mark":{"type":"text","align":"left","baseline":"middle","color":"#4a8a5e","fontSize":8.3},
  "encoding":{"x":{"datum":{"year":2021,"month":8,"date":22,"hours":7,"utc":true},"type":"temporal"},"y":{"datum":4.60},"text":{"field":"t"}}},
 {"data":{"values":[{"t":"M"}]},"mark":{"type":"text","align":"left","baseline":"middle","color":"#26a69a","fontSize":8.3},
  "encoding":{"x":{"datum":{"year":2021,"month":5,"date":18,"utc":true},"type":"temporal"},"y":{"datum":4.28},"text":{"field":"t"}}},
 {"data":{"values":[{"t":"0, close, 0)"}]},"mark":{"type":"text","align":"left","baseline":"middle","color":"#50535e","fontSize":8.3},
  "encoding":{"x":{"datum":{"year":2021,"month":5,"date":17,"hours":15,"minutes":30,"utc":true},"type":"temporal"},"y":{"datum":3.95},"text":{"field":"t"}}},
 {"data":{"values":[{"t":"1.270"}]},"mark":{"type":"text","align":"left","baseline":"middle","color":"#2f8fe8","fontSize":8.3},
  "encoding":{"x":{"datum":{"year":2021,"month":6,"date":6,"hours":18,"utc":true},"type":"temporal"},"y":{"datum":3.95},"text":{"field":"t"}}},
 {"data":{"values":[{"t":"close, 0)"}]},"mark":{"type":"text","align":"left","baseline":"middle","color":"#50535e","fontSize":8.3},
  "encoding":{"x":{"datum":{"year":2021,"month":5,"date":18,"utc":true},"type":"temporal"},"y":{"datum":3.68},"text":{"field":"t"}}},
 {"data":{"values":[{"t":"1.027"}]},"mark":{"type":"text","align":"left","baseline":"middle","color":"#ee3a44","fontSize":8.3},
  "encoding":{"x":{"datum":{"year":2021,"month":6,"date":4,"hours":20,"utc":true},"type":"temporal"},"y":{"datum":3.68},"text":{"field":"t"}}}
]}
],
"resolve":{"scale":{"y":"independent"}}
}
